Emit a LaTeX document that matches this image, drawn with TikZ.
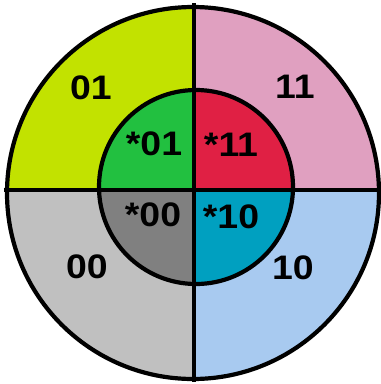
\documentclass[tikz,border=0pt]{standalone}
\usepackage{fontspec}
\setmainfont{Liberation Sans}
\definecolor{cA}{RGB}{194,226,0}
\definecolor{cB}{RGB}{224,160,192}
\definecolor{cC}{RGB}{192,192,192}
\definecolor{cD}{RGB}{168,202,240}
\definecolor{iA}{RGB}{34,192,64}
\definecolor{iB}{RGB}{224,32,68}
\definecolor{iC}{RGB}{128,128,128}
\definecolor{iD}{RGB}{0,160,192}
\tikzset{
  lbl/.style={font=\fontsize{34}{34}\selectfont\bfseries, inner sep=0pt, xscale=1.1},
  edge/.style={line width=4.2pt, draw=black}
}
\begin{document}
\begin{tikzpicture}[x=1pt,y=-1pt]
\useasboundingbox (0,0) rectangle (381,384);
\coordinate (c) at (194,190);
\coordinate (oc) at (193,193);
\coordinate (ic) at (196,187);
\begin{scope}
  \clip (oc) circle[radius=187];
  \fill[cA] (0,0) rectangle (c);
  \fill[cB] (381,0) rectangle (c);
  \fill[cC] (0,384) rectangle (c);
  \fill[cD] (381,384) rectangle (c);
\end{scope}
\begin{scope}
  \clip (ic) circle[radius=97];
  \fill[iA] (0,0) rectangle (c);
  \fill[iB] (381,0) rectangle (c);
  \fill[iC] (0,384) rectangle (c);
  \fill[iD] (381,384) rectangle (c);
\end{scope}
\draw[edge] (oc) circle[radius=186];
\draw[edge] (ic) circle[radius=97];
\coordinate (vt) at (194,3);
\coordinate (vb) at (194,382);
\coordinate (hl) at (4,190);
\coordinate (hr) at (381,190);
\draw[edge] (vt) -- (vb);
\draw[edge] (hl) -- (hr);
\node[lbl] (o01) at (91,88) {01};
\node[lbl] (o11) at (295,87) {11};
\node[lbl] (o00) at (87,267) {00};
\node[lbl] (o10) at (293,268) {10};
\node[lbl] (i01) at (154,144) {*01};
\node[lbl] (i11) at (231,145) {*11};
\node[lbl] (i00) at (153,215) {*00};
\node[lbl] (i10) at (231,217) {*10};
\end{tikzpicture}
\end{document}
